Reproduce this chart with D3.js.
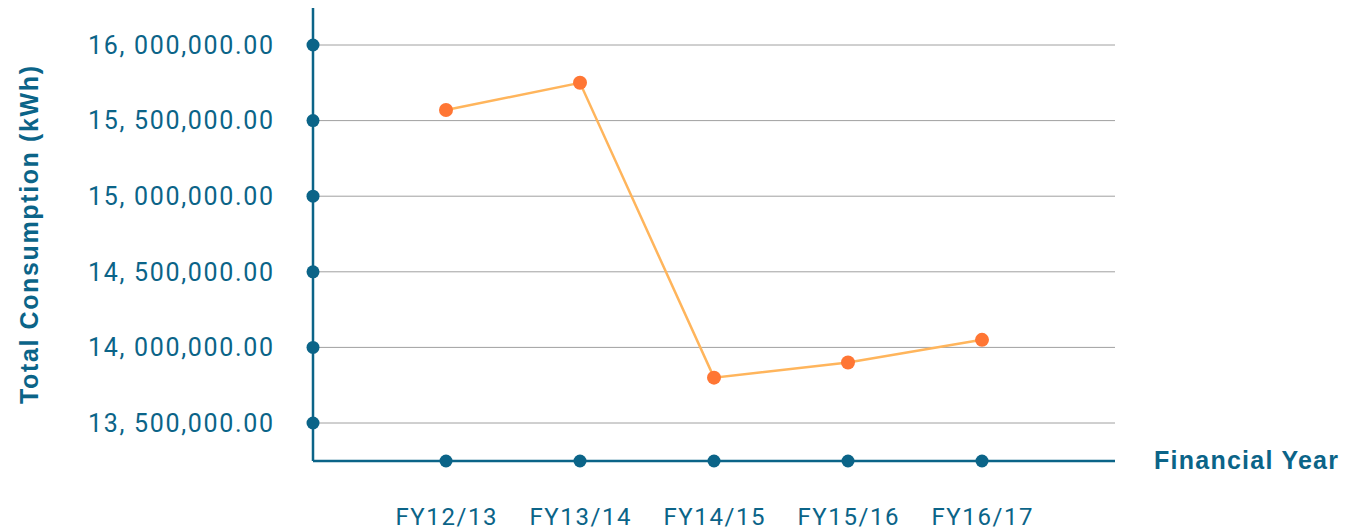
<!DOCTYPE html>
<html>
<head>
<meta charset="utf-8">
<script src="https://cdn.jsdelivr.net/npm/d3@7"></script>
<style>
  body { margin: 0; background: #fff; }
  text { font-family: Roboto, "Noto Sans", sans-serif; }
  .title { font-family: "Liberation Sans", Arial, sans-serif; font-weight: bold; }
</style>
</head>
<body>
<div id="vis"></div>
<script>
const width = 1364;
const height = 532;

// data
const years = ["FY12/13", "FY13/14", "FY14/15", "FY15/16", "FY16/17"];
const consumption = [15570000, 15750000, 13800000, 13900000, 14050000];
const yTicks = [13500000, 14000000, 14500000, 15000000, 15500000, 16000000];
const yTickLabels = ["13, 500,000.00", "14, 000,000.00", "14, 500,000.00", "15, 000,000.00", "15, 500,000.00", "16, 000,000.00"];

const blue = "#0b6488";

const svg = d3.select("#vis").append("svg")
  .attr("width", width)
  .attr("height", height);

const x = d3.scalePoint()
  .domain(years)
  .range([446, 982]);

const y = d3.scaleLinear()
  .domain([13500000, 16000000])
  .range([423, 45]);

const plotLeft = 313, plotRight = 1115, plotBottom = 461, plotTop = 8;

// gridlines
svg.append("g")
  .selectAll("line")
  .data(yTicks)
  .enter().append("line")
  .attr("x1", plotLeft)
  .attr("x2", plotRight)
  .attr("y1", d => y(d))
  .attr("y2", d => y(d))
  .attr("stroke", "#a0a0a0")
  .attr("stroke-width", 1);

// axes lines
svg.append("line")
  .attr("x1", plotLeft).attr("x2", plotLeft)
  .attr("y1", plotTop).attr("y2", plotBottom)
  .attr("stroke", blue).attr("stroke-width", 2.5);

svg.append("line")
  .attr("x1", plotLeft).attr("x2", plotRight)
  .attr("y1", plotBottom).attr("y2", plotBottom)
  .attr("stroke", blue).attr("stroke-width", 2.5);

// y ticks: dots + labels
svg.append("g")
  .selectAll("circle")
  .data(yTicks)
  .enter().append("circle")
  .attr("cx", plotLeft)
  .attr("cy", d => y(d))
  .attr("r", 6.5)
  .attr("fill", blue);

svg.append("g")
  .selectAll("text")
  .data(yTicks)
  .enter().append("text")
  .attr("x", 273)
  .attr("y", d => y(d))
  .attr("dy", "0.35em")
  .attr("text-anchor", "end")
  .attr("fill", blue)
  .style("font-size", "25px")
  .attr("textLength", 185)
  .text((d, i) => yTickLabels[i]);

// x ticks: dots + labels
svg.append("g")
  .selectAll("circle")
  .data(years)
  .enter().append("circle")
  .attr("cx", d => x(d))
  .attr("cy", plotBottom)
  .attr("r", 6.5)
  .attr("fill", blue);

svg.append("g")
  .selectAll("text")
  .data(years)
  .enter().append("text")
  .attr("x", d => x(d))
  .attr("y", 525)
  .attr("text-anchor", "middle")
  .attr("fill", blue)
  .style("font-size", "24px")
  .attr("textLength", 101)
  .text(d => d);

// axis titles
svg.append("text")
  .attr("class", "title")
  .attr("transform", `translate(38, 235) rotate(-90)`)
  .attr("text-anchor", "middle")
  .attr("fill", blue)
  .style("font-size", "25px")
  .attr("textLength", 338)
  .text("Total Consumption (kWh)");

svg.append("text")
  .attr("class", "title")
  .attr("x", 1154)
  .attr("y", 469)
  .attr("fill", blue)
  .style("font-size", "25px")
  .attr("textLength", 184)
  .text("Financial Year");

// series
const line = d3.line()
  .x((d, i) => x(years[i]))
  .y(d => y(d));

svg.append("path")
  .datum(consumption)
  .attr("d", line)
  .attr("fill", "none")
  .attr("stroke", "#ffb55c")
  .attr("stroke-width", 2.5);

svg.append("g")
  .selectAll("circle")
  .data(consumption)
  .enter().append("circle")
  .attr("cx", (d, i) => x(years[i]))
  .attr("cy", d => y(d))
  .attr("r", 7)
  .attr("fill", "#ff7634");
</script>
</body>
</html>
